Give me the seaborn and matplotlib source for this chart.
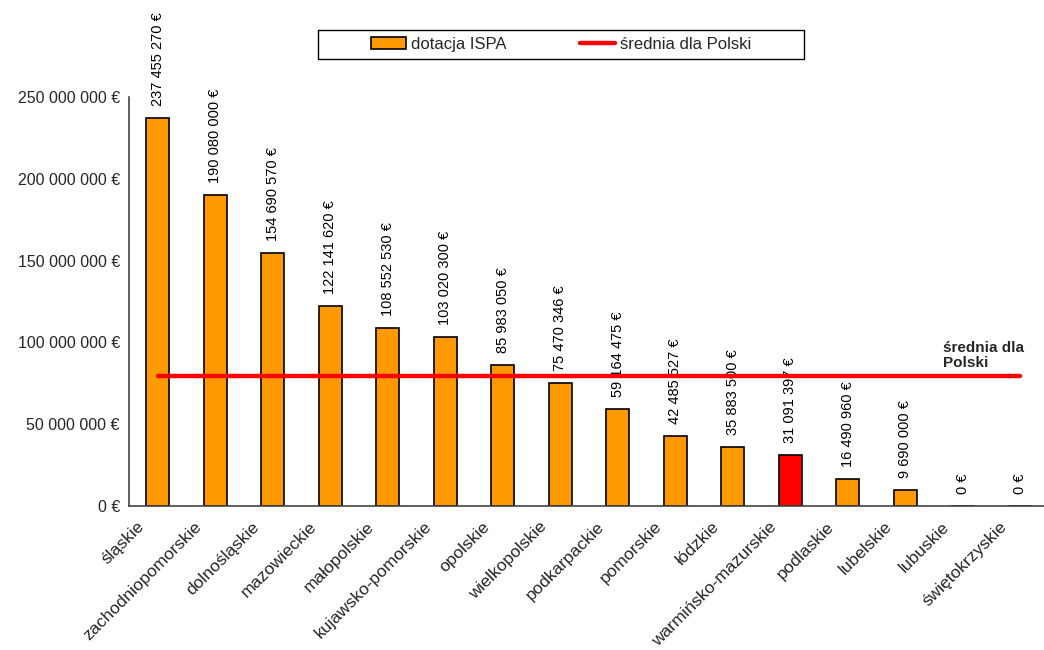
import matplotlib
matplotlib.use("Agg")
import matplotlib.pyplot as plt
import matplotlib.ticker as mticker
from matplotlib.lines import Line2D
from matplotlib.patches import Patch, Rectangle
import numpy as np
import pandas as pd
import seaborn as sns

# data
regions = ["śląskie", "zachodniopomorskie", "dolnośląskie", "mazowieckie",
           "małopolskie", "kujawsko-pomorskie", "opolskie", "wielkopolskie",
           "podkarpackie", "pomorskie", "łódzkie", "warmińsko-mazurskie",
           "podlaskie", "lubelskie", "lubuskie", "świętokrzyskie"]
grants = [237455270, 190080000, 154690570, 122141620, 108552530, 103020300,
          85983050, 75470346, 59164475, 42485527, 35883500, 31091397,
          16490960, 9690000, 0, 0]
highlight = "warmińsko-mazurskie"
poland_avg = 79500000
y_ticks = [0, 50000000, 100000000, 150000000, 200000000, 250000000]

ORANGE = "#FF9900"
RED = "#FF0000"


def eur(v):
    return f"{v:,.0f} €".replace(",", " ")


sns.set_style("white")
plt.rcParams["font.family"] = ["Liberation Sans", "DejaVu Sans"]

df = pd.DataFrame({"region": regions, "grant": grants})
palette = {r: (RED if r == highlight else ORANGE) for r in regions}

fig = plt.figure(figsize=(10.44, 6.5), dpi=100)
ax = fig.add_axes([129 / 1044, 144 / 650, 920 / 1044, 409 / 650])

sns.barplot(data=df, x="region", y="grant", hue="region", palette=palette,
            width=0.4, edgecolor="black", linewidth=1.2, saturation=1,
            legend=False, ax=ax)

# average line from first to last category centre
ax.plot([0, len(regions) - 1], [poland_avg, poland_avg], color=RED, lw=3.2,
        solid_capstyle="round", zorder=5)

# value labels above bars
px = 250000000 / 409
for i, v in enumerate(grants):
    ax.text(i, v + 12 * px, eur(v), rotation=90, ha="center", va="bottom",
            fontsize=10.5, color="black", zorder=4, clip_on=False)

ax.text(13.66, poland_avg + 6 * px, "średnia dla\nPolski",
        fontsize=11, fontweight="bold", ha="left", va="bottom",
        linespacing=1.1)

ax.set_xlim(-0.5, len(regions) - 0.5)
ax.set_ylim(0, 250000000)
ax.set_yticks(y_ticks)
ax.yaxis.set_major_formatter(mticker.FuncFormatter(lambda v, p: eur(v)))

# category labels, rotated and pulled left of the category centre
ax.set_xticks(range(len(regions)))
ax.set_xticklabels([])
for i, r in enumerate(regions):
    ax.annotate(r, xy=(i, 0), xycoords=("data", "axes fraction"),
                xytext=(-21, -13), textcoords="offset pixels",
                rotation=45, rotation_mode="anchor", ha="right", va="top",
                fontsize=12.5, annotation_clip=False)

ax.set_xticks(np.arange(-0.5, len(regions), 1), minor=True)
ax.tick_params(axis="x", which="major", length=0)
ax.tick_params(axis="x", which="minor", direction="inout", length=9,
               width=1, color="#444444")
ax.tick_params(axis="y", direction="inout", length=9, width=1,
               color="#444444", labelsize=11.5, pad=2)
ax.set_xlabel("")
ax.set_ylabel("")
for side in ["top", "right"]:
    ax.spines[side].set_visible(False)
for side in ["left", "bottom"]:
    ax.spines[side].set_color("#444444")
    ax.spines[side].set_linewidth(1.2)

# legend: fixed frame with centred entries
fig.patches.append(Rectangle((318 / 1044, 1 - 59 / 650), 486 / 1044, 29 / 650,
                             transform=fig.transFigure, facecolor="white",
                             edgecolor="black", linewidth=1.0))
handles = [Patch(facecolor=ORANGE, edgecolor="black", linewidth=1.2),
           Line2D([0], [0], color=RED, lw=3.2)]
fig.legend(handles, ["dotacja ISPA", "średnia dla Polski"],
           loc="center", ncol=2,
           bbox_to_anchor=(561 / 1044, 1 - 44.5 / 650),
           fontsize=12, frameon=False,
           handlelength=2.1, handletextpad=0.3, columnspacing=4.4,
           borderaxespad=0, borderpad=0)

fig.savefig("out.png", dpi=100)
